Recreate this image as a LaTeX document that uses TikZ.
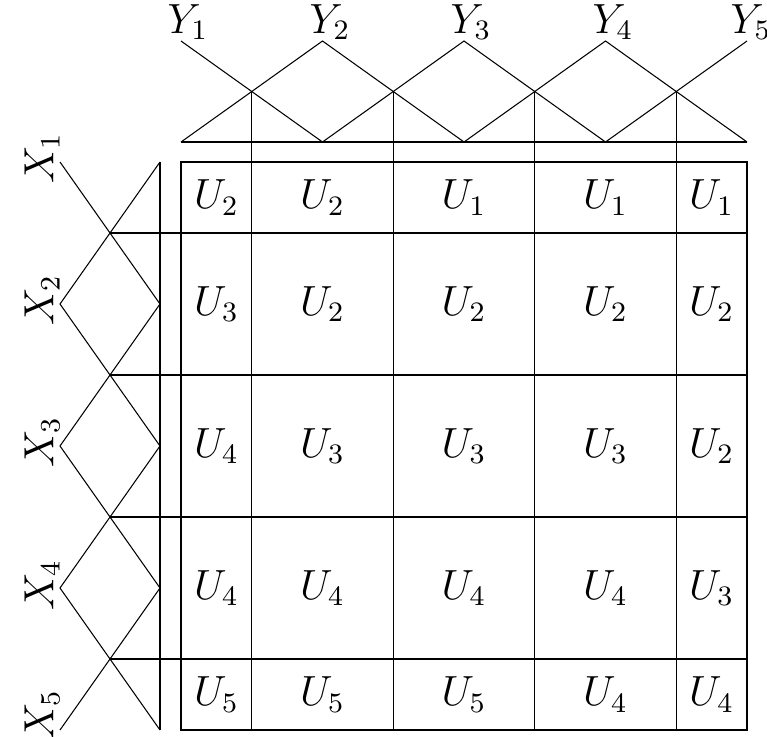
\documentclass[tikz,border=0pt]{standalone}
\usepackage{amsmath}
\usepackage{tikz}
\usetikzlibrary{calc}
\tikzset{
  line/.style={draw=black, line width=0.3pt},
  lbl/.style={font=\fontsize{11.5}{13}\selectfont, inner sep=0pt},
  cell/.style={font=\fontsize{11.5}{13}\selectfont, inner sep=0pt}
}

\begin{document}
\begin{tikzpicture}[x=0.01cm, y=-0.01cm]
  \useasboundingbox (0,0) rectangle (767,736);

  % output sets Y (top)
  \foreach \i in {1,...,5} {
    \coordinate (Y\i) at ({181+141.5*(\i-1)},41);
    \coordinate (b\i) at ({181+141.5*(\i-1)},142);
  }
  \foreach \i in {1,...,4}
    \coordinate (c\i) at ({251.75+141.5*(\i-1)},91.5);

  \draw[line] (b1) -- (b5);
  \draw[line] (Y1) -- (b2);
  \draw[line] (b1) -- (Y2) -- (b3);
  \draw[line] (b2) -- (Y3) -- (b4);
  \draw[line] (b3) -- (Y4) -- (b5);
  \draw[line] (b4) -- (Y5);

  % input sets X (left)
  \foreach \j in {1,...,5} {
    \coordinate (X\j) at (60,{162+142*(\j-1)});
    \coordinate (a\j) at (160,{162+142*(\j-1)});
  }
  \foreach \j in {1,...,4}
    \coordinate (d\j) at (110,{233+142*(\j-1)});

  \draw[line] (a1) -- (a5);
  \draw[line] (X1) -- (a2);
  \draw[line] (a1) -- (X2) -- (a3);
  \draw[line] (a2) -- (X3) -- (a4);
  \draw[line] (a3) -- (X4) -- (a5);
  \draw[line] (a4) -- (X5);

  % rule table
  \coordinate (T1) at (181,162);
  \coordinate (T2) at (747,730);
  \draw[line] (T1) rectangle (T2);
  \foreach \i in {1,...,4}
    \draw[line] (c\i) -- (c\i |- T2);
  \foreach \j in {1,...,4}
    \draw[line] (d\j) -- (d\j -| T2);

  % labels
  \foreach \i/\lx in {1/188,2/330,3/471,4/613,5/751}
    \node[lbl] (lY\i) at (\lx,22) {$Y_{\i}$};
  \foreach \j/\ly in {1/158,2/300,3/442,4/585,5/715}
    \node[lbl, rotate=90] (lX\j) at (42,\ly) {$X_{\j}$};

  % cells
  \foreach \cy/\ua/\ub/\uc/\ud/\ue [count=\r] in
      {197.5/2/2/1/1/1, 304/3/2/2/2/2, 446/4/3/3/3/2,
       588/4/4/4/4/3, 694.5/5/5/5/4/4} {
    \node[cell] (u\r1) at (216.4,\cy) {$U_{\ua}$};
    \node[cell] (u\r2) at (322.5,\cy) {$U_{\ub}$};
    \node[cell] (u\r3) at (464,\cy)   {$U_{\uc}$};
    \node[cell] (u\r4) at (605.5,\cy) {$U_{\ud}$};
    \node[cell] (u\r5) at (711.6,\cy) {$U_{\ue}$};
  }
\end{tikzpicture}
\end{document}
